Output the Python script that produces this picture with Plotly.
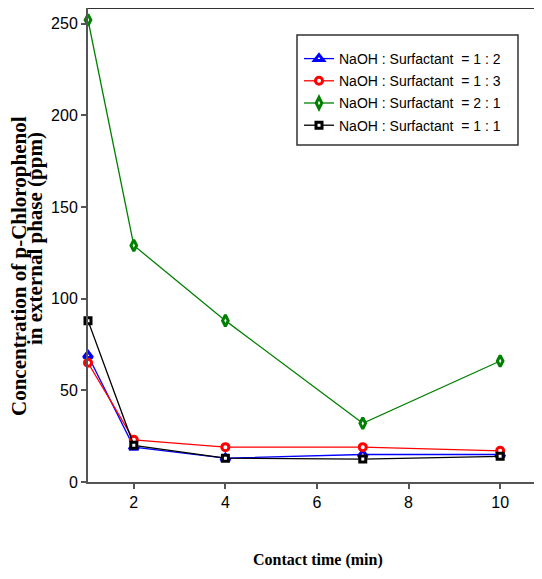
import plotly.graph_objects as go

time_min = [1, 2, 4, 7, 10]
series_names = ["NaOH : Surfactant  = 1 : 2", "NaOH : Surfactant  = 1 : 3",
                "NaOH : Surfactant  = 2 : 1", "NaOH : Surfactant  = 1 : 1"]
ratio_1_2 = [69, 19, 13, 15, 15]
ratio_1_3 = [65, 23, 19, 19, 17]
ratio_2_1 = [252, 129, 88, 32, 66]
ratio_1_1 = [88, 20, 13, 12.5, 14]
y_ticks = [0, 50, 100, 150, 200, 250]
x_ticks = [2, 4, 6, 8, 10]

styles = [("#0000ff", "triangle-up", 8), ("#ff0000", "circle", 7),
          ("#008000", "diamond-tall", 8), ("#000000", "square", 6)]

# page body has an 8px margin; plot area pixel box: x 88..540, y 8..482
PL, PR, PT, PB = 88, 540, 8, 482
W, H = PR - PL, PB - PT
def px(x): return (x - PL) / W
def py(y): return (PB - y) / H

fig = go.Figure()
for i, (name, vals, (col, sym, sz)) in enumerate(zip(series_names, [ratio_1_2, ratio_1_3, ratio_2_1, ratio_1_1], styles)):
    fig.add_trace(go.Scatter(
        x=time_min, y=vals, name=name, mode="lines+markers", legendgroup=str(i),
        line=dict(color=col, width=1.3),
        marker=dict(symbol=sym, size=sz, color="white", line=dict(color=col, width=3)),
        cliponaxis=False,
    ))

fig.update_layout(
    width=534, height=571,
    margin=dict(l=80, r=2, t=0, b=97),
    plot_bgcolor="white", paper_bgcolor="white",
    font=dict(family="Liberation Sans, Arial", size=16, color="black"),
    showlegend=True,
    legend=dict(x=px(299), y=py(43), xanchor="left", yanchor="top",
                borderwidth=0, bgcolor="rgba(0,0,0,0)",
                font=dict(size=14), tracegroupgap=1, itemwidth=30),
    xaxis=dict(range=[1, 10.87], tickvals=x_ticks, ticks="outside", ticklen=5,
               tickcolor="#555", tickwidth=1.5, showline=True, linecolor="#555", linewidth=2,
               showgrid=False, zeroline=False, mirror=False),
    yaxis=dict(range=[0, 258.5], tickvals=y_ticks, ticks="outside", ticklen=5,
               tickcolor="#555", tickwidth=1.5, showline=True, linecolor="#555", linewidth=2,
               showgrid=False, zeroline=False),
    shapes=[
        dict(type="line", xref="paper", yref="paper", x0=0, x1=1, y0=1, y1=1,
             line=dict(color="#333", width=2)),
        dict(type="rect", xref="paper", yref="paper", x0=px(297), x1=px(518),
             y0=py(145), y1=py(35), line=dict(color="#333", width=1.5),
             fillcolor="rgba(0,0,0,0)"),
    ],
    annotations=[
        dict(text="<b>Concentration of p-Chlorophenol</b>",
             xref="paper", yref="paper", x=px(19), y=py(266), xanchor="center", yanchor="middle",
             textangle=-90, showarrow=False,
             font=dict(family="Liberation Serif, Times New Roman", size=21, color="black")),
        dict(text="<b>in external phase (ppm)</b>",
             xref="paper", yref="paper", x=px(35), y=py(239), xanchor="center", yanchor="middle",
             textangle=-90, showarrow=False,
             font=dict(family="Liberation Serif, Times New Roman", size=21, color="black")),
        dict(text="<b>Contact time (min)</b>", xref="paper", yref="paper",
             x=px(318), y=py(560), xanchor="center", yanchor="middle", showarrow=False,
             font=dict(family="Liberation Serif, Times New Roman", size=16, color="black")),
    ],
)

fig.write_html("out.html")
